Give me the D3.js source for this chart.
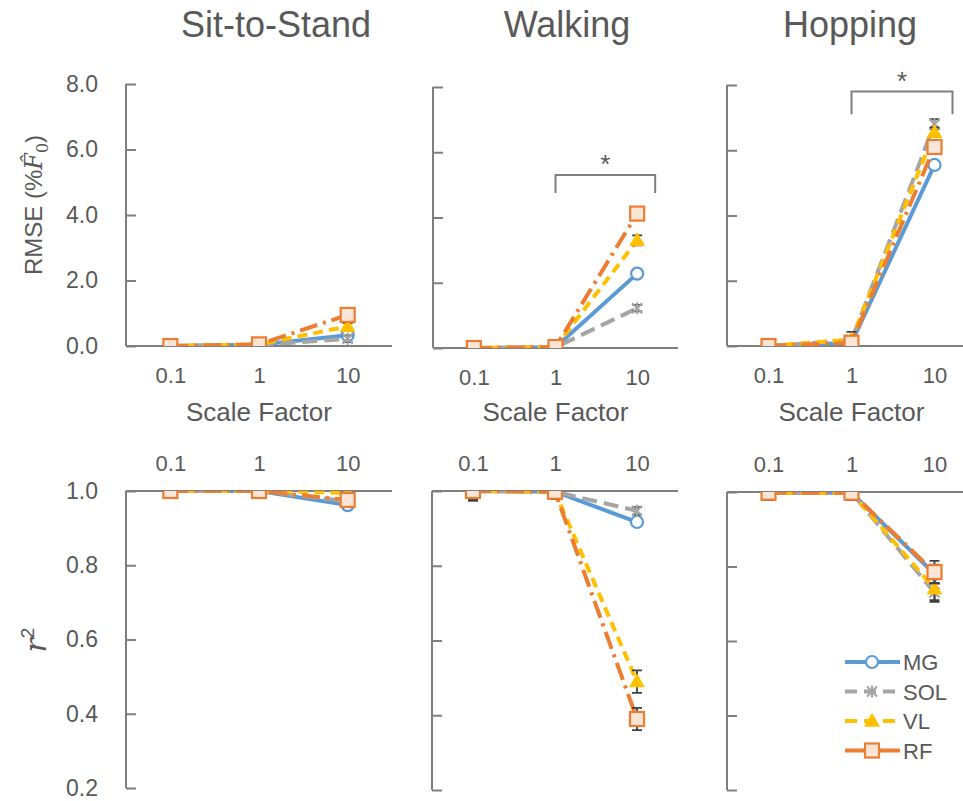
<!DOCTYPE html>
<html>
<head>
<meta charset="utf-8">
<script src="https://cdn.jsdelivr.net/npm/d3@7"></script>
<style>
  body { margin: 0; background: #fff; }
  svg text { font-family: "Liberation Sans", Arial, sans-serif; fill: #595959; }
</style>
</head>
<body>
<svg id="chart" width="963" height="801"></svg>
<script>
// categories
var scaleFactors = ["0.1", "1", "10"];
var muscles = ["MG", "SOL", "VL", "RF"];
var tasks = ["Sit-to-Stand", "Walking", "Hopping"];
var rmseTicks = [0, 2, 4, 6, 8];
var r2Ticks = [0.2, 0.4, 0.6, 0.8, 1.0];

// RMSE (%F0), one row per muscle (MG, SOL, VL, RF), columns = scale factor
var rmseSit  = [[0, 0.04, 0.33], [0, 0.03, 0.22], [0, 0.05, 0.60], [0, 0.05, 0.95]];
var rmseWalk = [[0, 0.02, 2.28], [0, 0.02, 1.22], [0, 0.03, 3.30], [0, 0.03, 4.12]];
var rmseHop  = [[0, 0.10, 5.55], [0, 0.18, 6.80], [0, 0.20, 6.55], [0, 0.10, 6.10]];
var rmseSitErr  = [[0, 0.02, 0.10], [0, 0.02, 0.10], [0, 0.02, 0.10], [0, 0.02, 0.12]];
var rmseWalkErr = [[0, 0.01, 0.08], [0, 0.01, 0.10], [0, 0.01, 0.15], [0, 0.01, 0.12]];
var rmseHopErr  = [[0, 0.05, 0.10], [0, 0.25, 0.15], [0, 0.10, 0.15], [0, 0.05, 0.20]];

// r^2
var r2Sit  = [[1.0, 1.0, 0.962], [1.0, 1.0, 0.972], [1.0, 1.0, 0.995], [1.0, 1.0, 0.976]];
var r2Walk = [[1.0, 0.998, 0.917], [1.0, 0.998, 0.947], [1.0, 0.998, 0.49], [1.0, 0.998, 0.39]];
var r2Hop  = [[0.998, 0.998, 0.78], [0.998, 0.998, 0.73], [0.998, 0.998, 0.74], [0.998, 0.998, 0.785]];
var r2SitErr  = [[0.003, 0.003, 0.01], [0.003, 0.003, 0.01], [0.003, 0.003, 0.01], [0.003, 0.003, 0.01]];
var r2WalkErr = [[0.025, 0.02, 0.01], [0.025, 0.02, 0.01], [0.025, 0.02, 0.03], [0.025, 0.02, 0.03]];
var r2HopErr  = [[0.02, 0.02, 0.025], [0.02, 0.02, 0.025], [0.02, 0.02, 0.03], [0.02, 0.02, 0.03]];

// significance brackets (value units: top, leg end)
var sigWalk = [5.3, 4.75];
var sigHop = [7.8, 7.1];

var colors = {MG: "#5B9BD5", SOL: "#A5A5A5", VL: "#FFC000", RF: "#ED7D31"};
var dashes = {MG: null, SOL: "15,7", VL: "10,6", RF: "18,6,3,6"};
var axisColor = "#7f7f7f";

var svg = d3.select("#chart");

var topPanels = [
  {x0: 126, x1: 392, y0: 346, y1: 84, vals: rmseSit, err: rmseSitErr},
  {x0: 433, x1: 678, y0: 348, y1: 87, vals: rmseWalk, err: rmseWalkErr, sig: sigWalk},
  {x0: 727, x1: 976, y0: 346, y1: 85, vals: rmseHop, err: rmseHopErr, sig: sigHop}
];
var bottomPanels = [
  {x0: 126, x1: 392, y0: 788, y1: 491, vals: r2Sit, err: r2SitErr},
  {x0: 432, x1: 678, y0: 790, y1: 491, vals: r2Walk, err: r2WalkErr},
  {x0: 727, x1: 976, y0: 790, y1: 492, vals: r2Hop, err: r2HopErr}
];

function drawMarker(g, m, cx, cy) {
  var c = colors[m];
  if (m == "MG") {
    g.append("circle").attr("cx", cx).attr("cy", cy).attr("r", 6)
      .attr("fill", "#fff").attr("stroke", c).attr("stroke-width", 2.2);
  } else if (m == "SOL") {
    var s = 5;
    g.append("path")
      .attr("d", "M" + (cx - s) + "," + (cy - s) + "L" + (cx + s) + "," + (cy + s) +
                 "M" + (cx - s) + "," + (cy + s) + "L" + (cx + s) + "," + (cy - s) +
                 "M" + cx + "," + (cy - s - 1) + "L" + cx + "," + (cy + s + 1))
      .attr("stroke", c).attr("stroke-width", 2.2).attr("fill", "none");
  } else if (m == "VL") {
    g.append("path").attr("d", d3.symbol().type(d3.symbolTriangle).size(90)())
      .attr("transform", "translate(" + cx + "," + (cy + 1) + ")")
      .attr("fill", c).attr("stroke", c).attr("stroke-width", 1);
  } else {
    g.append("rect").attr("x", cx - 7).attr("y", cy - 7).attr("width", 14).attr("height", 14)
      .attr("fill", "#fbe5d6").attr("stroke", c).attr("stroke-width", 2.2);
  }
}

function drawPanel(p, i, isTop) {
  var x = d3.scalePoint().domain(scaleFactors).range([p.x0, p.x1]).padding(0.5);
  var y = isTop ? d3.scaleLinear().domain([0, 8]).range([p.y0, p.y1])
                : d3.scaleLinear().domain([0.2, 1.0]).range([p.y0, p.y1]);
  var id = "clip" + (isTop ? "t" : "b") + i;
  svg.append("clipPath").attr("id", id).append("rect")
    .attr("x", p.x0).attr("y", p.y1).attr("width", p.x1 - p.x0).attr("height", p.y0 - p.y1);

  // y axis: ticks pointing inward, labels only on the first panel
  var yAxis = d3.axisRight(y).tickValues(isTop ? rmseTicks : r2Ticks).tickSize(10)
    .tickFormat(i == 0 ? d3.format(".1f") : "");
  var ya = svg.append("g").attr("transform", "translate(" + p.x0 + ",0)").call(yAxis);
  ya.select(".domain").attr("stroke", axisColor).attr("stroke-width", 2).attr("d", "M0," + p.y0 + "V" + p.y1);
  ya.selectAll(".tick line").attr("stroke", axisColor).attr("stroke-width", 2);
  ya.selectAll(".tick text").attr("x", -28).attr("text-anchor", "end")
    .style("font-size", "23px").style("fill", "#595959");

  // x axis (at value 0 on top row, at 1.0 on bottom row)
  var xAxis = isTop ? d3.axisBottom(x).tickSize(0).tickPadding(21) : d3.axisTop(x).tickSize(0).tickPadding(20);
  var xa = svg.append("g").attr("transform", "translate(0," + (isTop ? y(0) : y(1.0)) + ")").call(xAxis);
  xa.select(".domain").attr("stroke", axisColor).attr("stroke-width", 2).attr("d", "M" + p.x0 + ",0H" + p.x1);
  xa.selectAll(".tick text").style("font-size", "22px").style("fill", "#595959");
  if (isTop) {
    svg.append("text").attr("x", x("1")).attr("y", 421).attr("text-anchor", "middle")
      .style("font-size", "26px").text("Scale Factor");
  }

  var plot = svg.append("g").attr("clip-path", "url(#" + id + ")");
  muscles.forEach(function(m, k) {
    var vals = p.vals[k], err = p.err[k];
    var g = plot.append("g");
    var line = d3.line().x(function(d, j) { return x(scaleFactors[j]); }).y(function(d) { return y(d); });
    g.append("path").datum(vals).attr("d", line).attr("fill", "none")
      .attr("stroke", colors[m]).attr("stroke-width", 4)
      .attr("stroke-dasharray", dashes[m]).attr("stroke-linecap", m == "MG" ? "round" : "butt");
    vals.forEach(function(v, j) {
      var cx = x(scaleFactors[j]);
      var e = err[j];
      if (e > 0) {
        var top = y(v + e), bot = y(v - e);
        g.append("path")
          .attr("d", "M" + cx + "," + top + "V" + bot + "M" + (cx - 5) + "," + top + "H" + (cx + 5) +
                     "M" + (cx - 5) + "," + bot + "H" + (cx + 5))
          .attr("stroke", "#404040").attr("stroke-width", 1.8).attr("fill", "none");
      }
      drawMarker(g, m, cx, y(v));
    });
  });

  if (p.sig) {
    var xl = x("1"), xr = x("10") + 18;
    svg.append("path")
      .attr("d", "M" + xl + "," + y(p.sig[1]) + "V" + y(p.sig[0]) + "H" + xr + "V" + y(p.sig[1]))
      .attr("fill", "none").attr("stroke", axisColor).attr("stroke-width", 2);
    svg.append("text").attr("x", (xl + xr) / 2).attr("y", y(p.sig[0]) - 2).attr("text-anchor", "middle")
      .style("font-size", "26px").text("*");
  }
}

topPanels.forEach(function(p, i) { drawPanel(p, i, true); });
bottomPanels.forEach(function(p, i) { drawPanel(p, i, false); });

// titles
var titleX = [276, 567, 850];
tasks.forEach(function(t, i) {
  svg.append("text").attr("x", titleX[i]).attr("y", 37).attr("text-anchor", "middle")
    .style("font-size", "36px").text(t);
});

// y axis titles
var yt = svg.append("text").attr("transform", "translate(42,205) rotate(-90)")
  .attr("text-anchor", "middle").style("font-size", "24px");
yt.append("tspan").text("RMSE (%");
yt.append("tspan").style("font-style", "italic").style("font-family", "DejaVu Serif, serif").text("F\u0302");
yt.append("tspan").attr("dy", 6).style("font-size", "16px").style("font-family", "DejaVu Serif, serif").text("0");
yt.append("tspan").attr("dy", -6).text(")");

var rt = svg.append("text").attr("transform", "translate(46,640) rotate(-90)")
  .attr("text-anchor", "middle").style("font-size", "30px");
rt.append("tspan").style("font-style", "italic").style("font-family", "DejaVu Serif, serif").text("r");
rt.append("tspan").attr("dy", -12).style("font-size", "19px").text("2");

// legend
var legend = svg.append("g");
muscles.forEach(function(m, k) {
  var ly = 662 + k * 29.5;
  legend.append("line").attr("x1", 845).attr("x2", 900).attr("y1", ly).attr("y2", ly)
    .attr("stroke", colors[m]).attr("stroke-width", 4).attr("stroke-dasharray", dashes[m] ? (m == "RF" ? null : "12,7") : null);
  drawMarker(legend, m, 872, ly);
  legend.append("text").attr("x", 903).attr("y", ly + 8).style("font-size", "22px").text(m);
});
</script>
</body>
</html>
